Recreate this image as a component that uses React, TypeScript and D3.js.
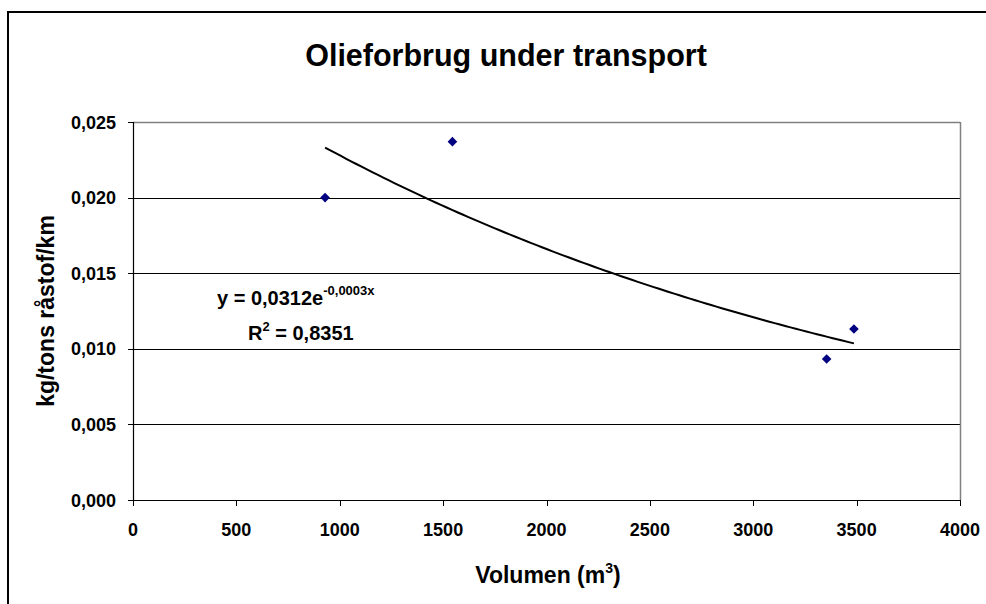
import React from "react";
import * as d3 from "d3";

const volumes = [929, 1545, 3355, 3487];
const consumption = [0.02, 0.0237, 0.00933, 0.01131];
const yTicks = [0, 0.005, 0.01, 0.015, 0.02, 0.025];
const xTicks = [0, 500, 1000, 1500, 2000, 2500, 3000, 3500, 4000];
const titleText = "Olieforbrug under transport";
const yTitle = "kg/tons råstof/km";
const eqMain = "y = 0,0312e";
const eqExp = "-0,0003x";
const r2Value = "= 0,8351";

const W = 986;
const H = 604;
const left = 133;
const right = 960;
const top = 122;
const bottom = 500;

function fmt(v: number) {
  return v.toFixed(3).replace(".", ",");
}

export default function App() {
  const x = d3.scaleLinear().domain([0, 4000]).range([left, right]);
  const y = d3.scaleLinear().domain([0, 0.025]).range([bottom, top]);

  // exponential regression fit from data
  const n = volumes.length;
  const lys = consumption.map((v) => Math.log(v));
  const mx = d3.mean(volumes) as number;
  const my = d3.mean(lys) as number;
  let sxy = 0,
    sxx = 0;
  for (let i = 0; i < n; i++) {
    sxy += (volumes[i] - mx) * (lys[i] - my);
    sxx += (volumes[i] - mx) ** 2;
  }
  const b = sxy / sxx;
  const a = Math.exp(my - b * mx);
  const x0 = d3.min(volumes) as number;
  const x1 = d3.max(volumes) as number;
  const pts: [number, number][] = d3.range(0, 101).map((i) => {
    const xv = x0 + ((x1 - x0) * i) / 100;
    return [x(xv), y(a * Math.exp(b * xv))];
  });
  const line = d3.line()(pts) as string;

  const font = "'Liberation Sans', Arial, sans-serif";

  return (
    <svg
      width={W}
      height={H}
      style={{ position: "fixed", left: 0, top: 0, background: "#fff" }}
      fontFamily={font}
    >
      <rect x={0} y={0} width={W} height={H} fill="#fff" />
      <rect
        x={8}
        y={12}
        width={W + 20}
        height={H + 20}
        fill="none"
        stroke="#000"
        strokeWidth={2}
      />
      <text x={506} y={66} textAnchor="middle" fontSize={30.5} fontWeight="bold">
        {titleText}
      </text>

      {/* gridlines */}
      {yTicks.map((t) => (
        <line
          key={"g" + t}
          x1={left}
          x2={right}
          y1={Math.round(y(t)) + 0.5}
          y2={Math.round(y(t)) + 0.5}
          stroke={t === 0.025 ? "#808080" : "#000"}
          strokeWidth={t === 0.025 ? 1.5 : 1}
        />
      ))}
      {/* right border */}
      <line x1={right + 0.5} x2={right + 0.5} y1={top} y2={bottom} stroke="#808080" strokeWidth={1.5} />
      {/* axes */}
      <line x1={left + 0.5} x2={left + 0.5} y1={top} y2={bottom + 0.5} stroke="#000" strokeWidth={1.2} />
      <line x1={left} x2={right} y1={bottom + 0.5} y2={bottom + 0.5} stroke="#000" strokeWidth={1.2} />

      {yTicks.map((t) => (
        <g key={"yt" + t}>
          <line
            x1={left - 5}
            x2={left}
            y1={Math.round(y(t)) + 0.5}
            y2={Math.round(y(t)) + 0.5}
            stroke="#000"
          />
          <text x={116} y={y(t) + 6.5} textAnchor="end" fontSize={18} fontWeight="bold">
            {fmt(t)}
          </text>
        </g>
      ))}
      {xTicks.map((t) => (
        <g key={"xt" + t}>
          <line
            x1={Math.round(x(t)) + 0.5}
            x2={Math.round(x(t)) + 0.5}
            y1={bottom}
            y2={bottom + 6}
            stroke="#000"
          />
          <text x={x(t)} y={536} textAnchor="middle" fontSize={18} fontWeight="bold">
            {t}
          </text>
        </g>
      ))}

      <text
        transform={`translate(54,${(top + bottom) / 2}) rotate(-90)`}
        textAnchor="middle"
        fontSize={23}
        fontWeight="bold"
      >
        {yTitle}
      </text>
      <text x={548} y={583} textAnchor="middle" fontSize={23} fontWeight="bold">
        Volumen (m<tspan fontSize={14} dy={-10}>3</tspan>
        <tspan dy={10}>)</tspan>
      </text>

      <path d={line} fill="none" stroke="#000" strokeWidth={2} />

      {volumes.map((v, i) => {
        const cx = x(v);
        const cy = y(consumption[i]);
        const s = 4.8;
        return (
          <path
            key={"p" + i}
            d={`M${cx},${cy - s}L${cx + s},${cy}L${cx},${cy + s}L${cx - s},${cy}Z`}
            fill="#000080"
          />
        );
      })}

      <text x={217} y={305} fontSize={20} fontWeight="bold">
        {eqMain}
        <tspan fontSize={13} dy={-10}>
          {eqExp}
        </tspan>
      </text>
      <text x={248} y={340} fontSize={20} fontWeight="bold">
        R<tspan fontSize={13} dy={-9}>2</tspan>
        <tspan dy={9}> {r2Value}</tspan>
      </text>
    </svg>
  );
}
